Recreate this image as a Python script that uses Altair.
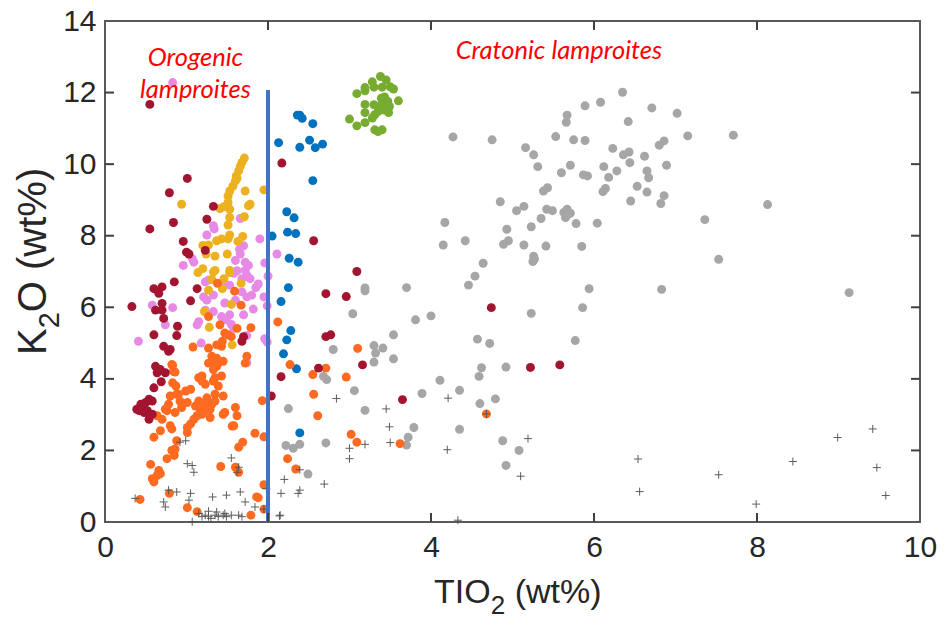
import altair as alt
import pandas as pd

# ---------------- data ----------------
gray_x = [4.27, 4.75, 5.53, 5.75, 5.89, 5.67, 5.66, 5.89, 6.08, 6.35, 6.71, 7.02, 6.42, 7.15, 7.71,
          5.16, 5.26, 5.31, 5.60, 5.71, 5.87, 5.92, 6.12, 6.23, 6.36, 6.43, 6.44, 6.18, 6.28, 6.62, 6.65, 6.67, 6.80, 6.86, 6.89,
          6.53, 6.65, 6.86, 6.82, 6.45, 6.11, 6.14, 5.38, 5.43, 4.85, 5.05, 5.14, 5.42, 5.49, 5.63, 5.67, 5.71, 5.65, 5.68,
          5.78, 6.04, 5.35, 5.23, 4.93, 4.17, 4.42, 4.15, 4.89, 4.95, 5.14, 5.41, 5.85, 5.26, 5.27, 5.25, 4.64, 4.54, 4.46,
          3.70, 5.94, 6.83, 8.13, 7.36, 7.53, 9.13,
          3.81, 4.00, 5.23, 5.86, 5.77, 4.57, 4.72, 4.62, 4.92, 4.59, 4.11, 4.35, 3.89, 4.60, 4.79, 3.79, 3.72, 3.70, 4.35,
          4.88, 5.08, 4.92,
          3.19, 3.19, 3.04, 2.80, 3.30, 3.32, 3.41, 3.30, 3.54, 3.54, 2.68, 2.72, 3.06, 2.25, 3.19, 2.22, 2.31, 2.39, 2.71, 2.49]
gray_y = [10.76, 10.68, 10.77, 10.68, 10.66, 11.37, 11.17, 11.63, 11.73, 12.01, 11.57, 11.42, 11.19, 10.79, 10.81,
          10.46, 10.26, 9.93, 9.76, 9.97, 9.70, 9.67, 9.93, 10.44, 10.26, 10.34, 10.04, 9.63, 9.81, 10.22, 9.81, 9.62, 10.53, 10.65, 9.97,
          9.38, 9.22, 9.12, 8.90, 8.97, 9.23, 9.32, 9.25, 9.34, 8.95, 8.70, 8.82, 8.74, 8.70, 8.65, 8.74, 8.63, 8.51, 8.60,
          8.34, 8.35, 8.48, 8.25, 8.18, 8.37, 7.86, 7.74, 7.76, 7.86, 7.74, 7.71, 7.70, 7.43, 7.35, 7.28, 7.23, 6.87, 6.62,
          6.55, 6.52, 6.50, 8.87, 8.45, 7.34, 6.41,
          5.65, 5.76, 5.83, 5.99, 5.07, 5.11, 4.99, 4.31, 4.33, 4.07, 3.96, 3.68, 3.59, 3.31, 3.44, 2.64, 2.37, 2.15, 2.59,
          2.27, 2.00, 1.58,
          6.54, 6.46, 5.82, 4.82, 4.93, 4.72, 4.86, 4.47, 5.23, 4.56, 4.07, 3.98, 3.67, 3.17, 3.12, 2.14, 2.06, 2.17, 2.21, 1.34]

green_x = [3.09, 3.19, 3.19, 3.30, 3.40, 3.50, 3.54, 3.19, 3.19, 3.30, 3.39, 3.43, 3.47, 3.37, 3.43, 3.48, 3.60,
           3.00, 3.09, 3.19, 3.28, 3.31, 3.31, 3.35, 3.40, 3.35, 3.39, 3.45, 3.49, 3.38, 3.45, 3.28]
green_y = [11.97, 12.14, 12.05, 12.15, 12.15, 12.16, 12.10, 11.67, 11.44, 11.66, 11.84, 11.88, 11.75, 11.56, 11.51, 11.44, 11.77,
           11.26, 11.07, 11.16, 11.29, 11.38, 10.96, 10.91, 10.96, 11.47, 11.65, 11.65, 11.61, 12.45, 12.35, 12.30]

blue_x = [2.13, 2.36, 2.39, 2.42, 2.55, 2.39, 2.51, 2.58, 2.67, 2.55, 2.23, 2.32, 2.24, 2.34, 2.05, 2.26, 2.37,
          2.25, 2.16, 2.28, 2.23, 2.19, 2.35, 2.39]
blue_y = [10.60, 11.37, 11.37, 11.28, 11.13, 10.47, 10.67, 10.46, 10.56, 9.54, 8.67, 8.50, 8.10, 8.06, 7.99, 7.37, 7.26,
          6.55, 6.16, 5.35, 5.09, 4.70, 4.28, 2.49]

pink_x = [0.83, 1.90, 2.11, 1.96, 2.00, 1.95, 1.99, 1.96, 1.99, 1.66, 1.33, 1.34, 1.25, 1.66, 1.60, 1.72, 1.76,
          1.07, 1.09, 0.96, 1.72, 1.74, 1.78, 1.68, 1.27, 1.23, 1.45, 1.53, 1.68, 1.74, 1.80, 1.33, 1.21, 1.25,
          0.58, 0.83, 1.23, 1.33, 1.43, 1.49, 1.53, 1.70, 1.58, 0.74, 1.13, 1.15, 0.41, 1.74, 1.18, 1.74,
          1.65, 1.70, 1.62, 1.85, 1.60, 1.47, 1.55, 1.82, 1.58, 1.88]
pink_y = [12.28, 7.91, 7.49, 7.24, 6.87, 6.29, 6.04, 5.12, 5.03, 8.48, 8.28, 8.19, 8.02, 7.49, 7.31, 7.26, 7.17,
          7.36, 7.26, 7.17, 7.03, 6.90, 6.80, 6.80, 6.76, 6.71, 6.71, 6.62, 6.43, 6.29, 6.34, 6.34, 6.29, 6.20,
          6.06, 5.99, 5.92, 5.88, 5.74, 5.65, 5.79, 5.79, 5.41, 5.51, 5.51, 5.60, 5.05, 5.21, 5.00, 4.45,
          7.62, 7.72, 7.02, 6.55, 6.20, 6.12, 5.52, 5.95, 6.95, 6.65]

gold_x = [1.71, 1.66, 1.64, 1.61, 1.60, 1.57, 1.53, 1.51, 1.72, 1.95, 0.94, 1.51, 1.53, 1.41, 1.46, 1.76, 1.78,
          1.53, 1.51, 1.71, 1.53, 1.51, 1.37, 1.43, 1.63, 1.69, 1.20, 1.27, 1.24, 1.35, 1.50, 1.33, 1.35, 1.53,
          1.53, 1.14, 1.20, 1.31, 1.46, 1.67, 1.27, 1.44, 1.55, 1.22, 1.28, 1.56, 1.68, 1.62]
gold_y = [10.17, 9.94, 9.81, 9.67, 9.53, 9.39, 9.25, 9.11, 9.25, 9.28, 8.88, 8.93, 8.74, 8.76, 8.81, 8.84, 8.88,
          8.51, 8.30, 8.53, 8.02, 7.91, 7.86, 7.91, 7.84, 7.98, 7.73, 7.74, 7.49, 7.43, 7.49, 6.99, 7.03, 7.03,
          6.97, 6.97, 7.08, 6.78, 6.80, 6.67, 6.48, 6.52, 6.08, 5.88, 5.44, 4.95, 10.05, 9.60]

orange_x = [1.38, 1.59, 1.67, 1.27, 1.41, 1.47, 1.62, 1.79, 1.51, 1.55, 1.44, 1.37, 1.43, 1.08, 1.27, 1.31, 1.37,
            1.33, 1.39, 1.45, 1.27, 1.74, 1.72, 0.82, 0.84, 1.19, 1.35, 1.43,
            2.12, 2.27, 2.71, 2.55, 2.96, 2.56, 1.93, 2.61, 3.10, 1.95, 3.02, 3.09, 2.24, 2.34, 1.95, 1.88, 1.95,
            3.62, 4.68,
            0.83, 0.86, 0.83, 0.87, 0.88, 0.80, 0.78, 0.76, 0.74, 0.64, 0.70, 0.68, 0.60, 0.80, 0.82, 0.86, 0.90,
            0.99, 1.05, 0.92, 1.01, 0.94, 1.15, 1.19, 1.23, 1.25, 1.15, 1.11, 1.17, 1.23, 1.31, 1.35, 1.29, 1.23,
            1.19, 1.13, 1.09, 1.05, 1.01, 1.01, 1.33, 1.37, 1.33, 1.35, 1.39, 1.45, 1.29, 1.47, 1.45, 1.60, 1.56,
            1.62, 0.88, 0.86, 0.82, 0.76, 0.85, 0.56, 0.58, 0.60, 0.64, 0.68, 0.66, 0.43, 0.79, 1.01, 1.13, 1.42,
            1.60, 1.64, 1.64, 1.69, 1.84, 1.86, 1.79, 1.58]
orange_y = [6.67, 6.45, 6.06, 5.74, 5.51, 5.28, 5.41, 5.43, 5.23, 5.18, 5.05, 4.95, 4.91, 4.89, 4.86, 4.63, 4.58,
            4.49, 4.44, 4.49, 4.44, 4.63, 4.44, 4.40, 4.21, 4.08, 4.03, 4.08,
            5.59, 4.40, 4.30, 4.12, 4.05, 3.57, 3.39, 2.97, 4.85, 2.38, 2.45, 2.23, 1.77, 1.48, 1.04, 0.68, 0.36,
            2.19, 3.02,
            4.38, 4.19, 3.89, 3.80, 3.57, 3.52, 3.29, 3.11, 3.15, 2.97, 2.87, 2.55, 2.37, 2.69, 2.60, 3.06, 3.57,
            3.66, 3.71, 3.38, 3.34, 3.20, 4.03, 3.94, 3.85, 3.47, 3.38, 3.24, 3.15, 3.34, 3.29, 3.38, 3.15, 3.11,
            3.01, 2.97, 2.87, 2.74, 2.64, 2.50, 4.26, 4.35, 3.94, 3.57, 3.80, 3.52, 2.92, 3.06, 3.01, 3.20, 2.68,
            2.97, 2.27, 2.04, 2.00, 1.77, 1.86, 1.61, 1.21, 1.12, 1.30, 1.35, 1.44, 0.63, 0.80, 0.40, 0.29, 1.55,
            1.53, 1.39, 2.09, 2.23, 2.48, 0.70, 0.19, 2.69]

darkred_x = [0.55, 1.01, 0.79, 2.17, 2.56, 3.09, 1.33, 1.25, 0.84, 0.55, 0.96, 1.00, 1.03, 1.23, 0.85, 0.60, 0.70,
             0.66, 1.13, 0.70, 0.62, 1.05, 0.33, 0.72, 0.70, 0.89, 0.88, 0.60, 1.70, 1.68, 0.72, 0.78, 0.80, 0.62,
             0.68, 0.74, 0.64, 0.69, 0.60, 0.42, 0.46, 0.50, 0.54, 0.58, 0.52, 0.54, 0.58, 0.48, 0.39, 0.44,
             2.71, 2.96, 2.71, 2.77, 2.62, 3.16, 2.16, 2.04, 3.65, 4.74, 5.22, 5.58]
darkred_y = [11.67, 9.60, 9.20, 10.03, 7.86, 7.00, 8.82, 8.46, 8.37, 8.19, 7.84, 7.54, 7.49, 7.59, 6.71, 6.52, 6.57,
             6.39, 6.52, 6.11, 5.92, 6.18, 6.02, 5.69, 5.92, 5.47, 5.21, 5.23, 5.18, 5.05, 4.91, 4.77, 4.82, 4.35,
             4.26, 4.17, 4.17, 3.92, 3.75, 3.11, 3.20, 3.34, 3.43, 3.38, 3.11, 2.87, 3.01, 3.06, 3.15, 3.29,
             6.38, 6.30, 5.18, 5.23, 4.30, 4.39, 4.06, 3.52, 3.42, 5.99, 4.32, 4.39]

cross_x = [0.37, 0.72, 0.74, 0.88, 0.78, 1.03, 1.05, 1.01, 1.07, 1.09, 0.92, 0.99, 1.32, 1.49, 1.66, 1.62, 1.64,
           1.72, 1.84, 1.98, 2.15, 1.55, 1.07, 1.15, 1.19, 1.23, 1.27, 1.30, 1.35, 1.39, 1.45, 1.47, 1.55, 1.64,
           1.68, 1.49, 1.27, 1.37, 1.95,
           2.84, 4.21, 3.45, 3.49, 3.50, 3.00, 3.00, 3.19, 4.20, 2.39, 2.20, 2.69, 2.39, 2.37, 2.16, 2.14, 4.68,
           5.19, 5.10, 6.54, 6.56, 4.33, 7.53, 7.99, 8.44, 8.99, 9.42, 9.47, 9.58]
cross_y = [0.66, 0.56, 0.42, 0.84, 0.89, 0.61, 0.80, 1.63, 1.58, 1.39, 2.23, 2.27, 0.70, 0.75, 0.84, 1.39, 1.53,
           0.56, 0.42, 0.93, 0.19, 1.79, 0.01, 0.24, 0.15, 0.19, 0.15, 0.10, 0.19, 0.15, 0.19, 0.24, 0.19, 0.19,
           0.15, 0.15, 0.30, 0.28, 0.36,
           3.45, 3.46, 3.16, 2.66, 2.22, 2.06, 1.77, 2.17, 2.02, 1.46, 1.19, 1.06, 0.89, 0.80, 0.80, 0.17, 3.02,
           2.33, 1.28, 1.76, 0.85, 0.05, 1.32, 0.50, 1.69, 2.36, 2.60, 1.52, 0.74]

group_names = ["gray", "green", "blue", "pink", "gold", "orange", "darkred"]
group_colors = ["#A6A6A6", "#77AC30", "#0072BD", "#E68AE6", "#EDB120", "#FF6A21", "#A2142F"]

x_ticks = [0, 2, 4, 6, 8, 10]
y_ticks = [0, 2, 4, 6, 8, 10, 12, 14]
inner_x_ticks = [2, 4, 6, 8]
inner_y_ticks = [2, 4, 6, 8, 10, 12]

divider_x = [2]
divider_y0 = [0]
divider_y1 = [12.07]

ann_text = ["Orogenic", "lamproites", "Cratonic lamproites"]
ann_x = [1.11, 1.11, 5.57]
ann_y = [12.75, 11.85, 12.95]

xtitle_parts = ["TIO", "2", "(wt%)"]
ytitle_parts = ["K", "2", "O (wt%)"]

# ---------------- build tables ----------------
series = [(n, xs, ys) for n, (xs, ys) in zip(group_names, [
    (gray_x, gray_y), (green_x, green_y), (blue_x, blue_y), (pink_x, pink_y),
    (gold_x, gold_y), (orange_x, orange_y), (darkred_x, darkred_y)])]
rows = []
for name, xs, ys in series:
    for xv, yv in zip(xs, ys):
        rows.append({"tio2": xv, "k2o": yv, "group": name})
df = pd.DataFrame(rows)
df_cross = pd.DataFrame({"tio2": cross_x, "k2o": cross_y})

W, H = 815, 501
FONT = "Liberation Sans"
TXT = "#262626"
xscale = alt.Scale(domain=[0, 10], nice=False, zero=False)
yscale = alt.Scale(domain=[0, 14], nice=False, zero=False)

xaxis = alt.Axis(values=x_ticks, title=None, grid=False, domain=False, ticks=False,
                 labelFont=FONT, labelFontSize=30, labelColor=TXT, labelPadding=10,
                 labelFlush=False, format="d")
yaxis = alt.Axis(values=y_ticks, title=None, grid=False, domain=False, ticks=False,
                 labelFont=FONT, labelFontSize=30, labelColor=TXT, labelPadding=9,
                 labelFlush=False, format="d")

points = alt.Chart(df).mark_circle(size=80, opacity=1).encode(
    x=alt.X("tio2:Q", scale=xscale, axis=xaxis),
    y=alt.Y("k2o:Q", scale=yscale, axis=yaxis),
    color=alt.Color("group:N", scale=alt.Scale(domain=group_names, range=group_colors), legend=None),
)

crosses = alt.Chart(df_cross).mark_point(
    shape="M-1,0L1,0M0,-1L0,1", size=64, filled=False, strokeWidth=1, color="#4D4D4D", opacity=0.9
).encode(x=alt.X("tio2:Q", scale=xscale), y=alt.Y("k2o:Q", scale=yscale))

divider = alt.Chart(pd.DataFrame({"x": divider_x, "y0": divider_y0, "y1": divider_y1})).mark_rule(
    color="#4472C4", strokeWidth=4
).encode(x=alt.X("x:Q", scale=xscale), y=alt.Y("y0:Q", scale=yscale), y2="y1:Q")

TICK = "#404040"
tx = pd.DataFrame({"v": inner_x_ticks})
ty = pd.DataFrame({"v": inner_y_ticks})
tick_b = alt.Chart(tx).mark_rule(color=TICK, strokeWidth=2).encode(
    x=alt.X("v:Q", scale=xscale), y=alt.value(H), y2=alt.value(H - 9))
tick_t = alt.Chart(tx).mark_rule(color=TICK, strokeWidth=2).encode(
    x=alt.X("v:Q", scale=xscale), y=alt.value(0), y2=alt.value(9))
tick_l = alt.Chart(ty).mark_rule(color=TICK, strokeWidth=2).encode(
    y=alt.Y("v:Q", scale=yscale), x=alt.value(0), x2=alt.value(9))
tick_r = alt.Chart(ty).mark_rule(color=TICK, strokeWidth=2).encode(
    y=alt.Y("v:Q", scale=yscale), x=alt.value(W), x2=alt.value(W - 9))

ann = alt.Chart(pd.DataFrame({"t": ann_text, "x": ann_x, "y": ann_y})).mark_text(
    font="Lato", fontStyle="italic", fontSize=25.5, color="#FF0000", align="center", baseline="alphabetic"
).encode(x=alt.X("x:Q", scale=xscale), y=alt.Y("y:Q", scale=yscale), text="t:N")

# axis titles with real subscripts
def piece(txt, x, y, size, angle=0):
    return alt.Chart(pd.DataFrame({"t": [txt]})).mark_text(
        font=FONT, fontSize=size, color=TXT, align="left", baseline="alphabetic", angle=angle
    ).encode(text="t:N", x=alt.value(x), y=alt.value(y))

TS, SS = 34, 26
xs0 = 329
xt1 = piece(xtitle_parts[0], xs0, 582, TS)
xt2 = piece(xtitle_parts[1], xs0 + 56.7, 593, SS)
xt3 = piece(xtitle_parts[2], xs0 + 56.7 + 14.5 + 9.5, 582, TS)

YS, YSS = 40, 29
yb = 334
yt1 = piece(ytitle_parts[0], -59, yb, YS, 270)
yt2 = piece(ytitle_parts[1], -46, yb - 26.7, YSS, 270)
yt3 = piece(ytitle_parts[2], -59, yb - 26.7 - 16.1, YS, 270)

chart = alt.layer(
    points, crosses, divider, tick_b, tick_t, tick_l, tick_r, ann, xt1, xt2, xt3, yt1, yt2, yt3
).properties(
    width=W, height=H,
    autosize=alt.AutoSizeParams(type="none"),
    padding={"left": 97, "top": 13, "right": 17, "bottom": 95},
    background="white",
).configure_view(stroke="#595959", strokeWidth=2)

chart.save("out.html", embed_options={"renderer": "svg", "actions": False})
